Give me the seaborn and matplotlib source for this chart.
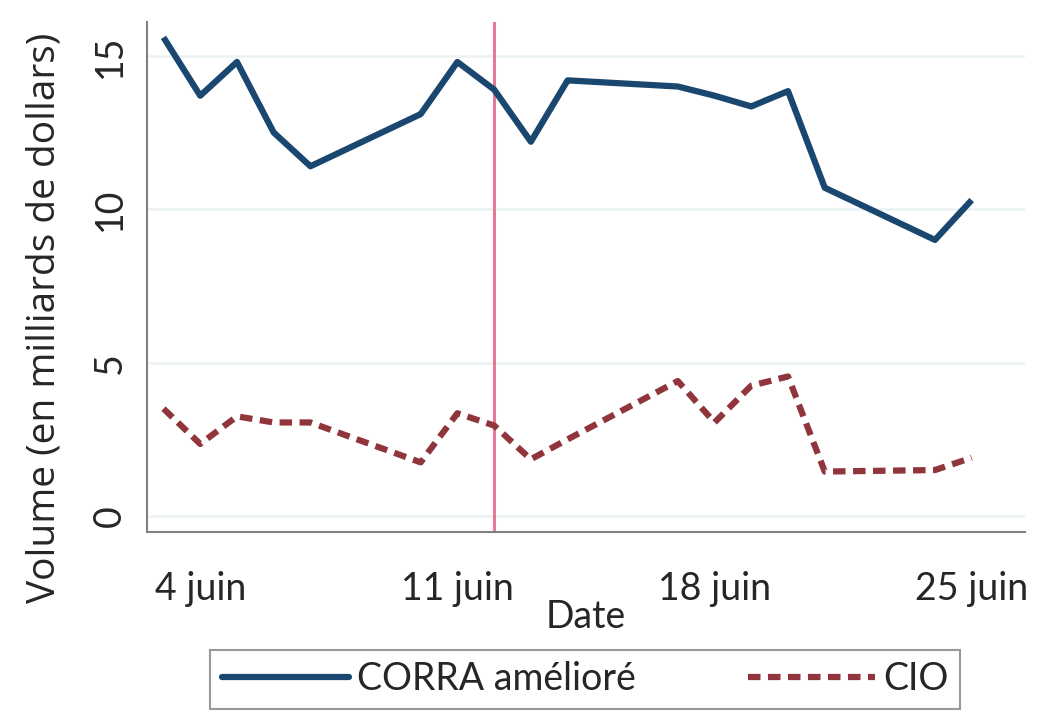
import pandas as pd
import seaborn as sns
import matplotlib.pyplot as plt
import matplotlib.dates as mdates

# data
dates = ["2019-06-03", "2019-06-04", "2019-06-05", "2019-06-06", "2019-06-07",
         "2019-06-10", "2019-06-11", "2019-06-12", "2019-06-13", "2019-06-14",
         "2019-06-17", "2019-06-18", "2019-06-19", "2019-06-20", "2019-06-21",
         "2019-06-24", "2019-06-25"]
corra = [15.6, 13.7, 14.8, 12.5, 11.4, 13.1, 14.8, 13.9, 12.2, 14.2,
         14.0, 13.7, 13.35, 13.85, 10.7, 9.0, 10.3]
cio = [3.5, 2.35, 3.25, 3.05, 3.05, 1.75, 3.35, 2.95, 1.85, 2.5,
       4.4, 3.05, 4.25, 4.55, 1.45, 1.5, 1.9]
series_names = ["CORRA amélioré", "CIO"]
tick_dates = ["2019-06-04", "2019-06-11", "2019-06-18", "2019-06-25"]
tick_labels = ["4 juin", "11 juin", "18 juin", "25 juin"]
event_date = "2019-06-12"

df = pd.DataFrame({"Date": pd.to_datetime(dates),
                   series_names[0]: corra, series_names[1]: cio})
long = df.melt(id_vars="Date", var_name="serie", value_name="volume")

sns.set_theme(style="white")
plt.rcParams["font.family"] = ["Lato", "DejaVu Sans"]

fig = plt.figure(figsize=(10.52, 7.12), dpi=100)
ax = fig.add_axes([0.1397, 0.2528, 0.8346, 0.7162])

ax.axvline(pd.Timestamp(event_date), color="#e57a96", lw=2.2, zorder=1)

sns.lineplot(data=long, x="Date", y="volume", hue="serie", style="serie",
             palette=["#1a476f", "#90353b"], dashes=[(1, 0), (2, 1.2)],
             linewidth=4.5, ax=ax, legend=False, zorder=3)

# grid
for v in [0, 5, 10, 15]:
    ax.axhline(v, color="#eaf2f3", lw=1.8, zorder=0)

ax.set_xlim(mdates.date2num(pd.Timestamp("2019-06-03")) - 0.45,
            mdates.date2num(pd.Timestamp("2019-06-25")) + 1.45)
ax.set_ylim(-0.52, 16.1)

ax.set_xticks(mdates.date2num(pd.to_datetime(tick_dates)))
ax.set_xticklabels(tick_labels, fontsize=27)
ax.set_yticks([0, 5, 10, 15])
ax.set_yticklabels(["0", "5", "10", "15"], fontsize=27, rotation=90, va="center")
ax.tick_params(axis="x", length=10, width=1.5, color="#808080", pad=18)
ax.tick_params(axis="y", length=8, width=1.5, color="#808080", pad=6)

for s in ["top", "right"]:
    ax.spines[s].set_visible(False)
for s in ["left", "bottom"]:
    ax.spines[s].set_color("#808080")
    ax.spines[s].set_linewidth(1.5)

ax.set_xlabel("Date", fontsize=27, labelpad=-6)
ax.set_ylabel("Volume (en milliards de dollars)", fontsize=28,
              family=["Open Sans", "DejaVu Sans"])
ax.yaxis.set_label_coords(-0.095, 0.42)

# legend
h1, = ax.plot([], [], color="#1a476f", lw=4.5)
h2, = ax.plot([], [], color="#90353b", lw=4.5, dashes=(2, 1.2))
leg = fig.legend([h1, h2], series_names, loc="upper center",
                 bbox_to_anchor=(0.556, 1 - 650 / 712), ncol=2, fontsize=27,
                 frameon=True, fancybox=False, handlelength=3.4,
                 columnspacing=3.0, handletextpad=0.2, borderpad=0.3,
                 borderaxespad=0)
leg.get_frame().set_edgecolor("#808080")
leg.get_frame().set_linewidth(1.5)

fig.savefig("out.png", dpi=100)
